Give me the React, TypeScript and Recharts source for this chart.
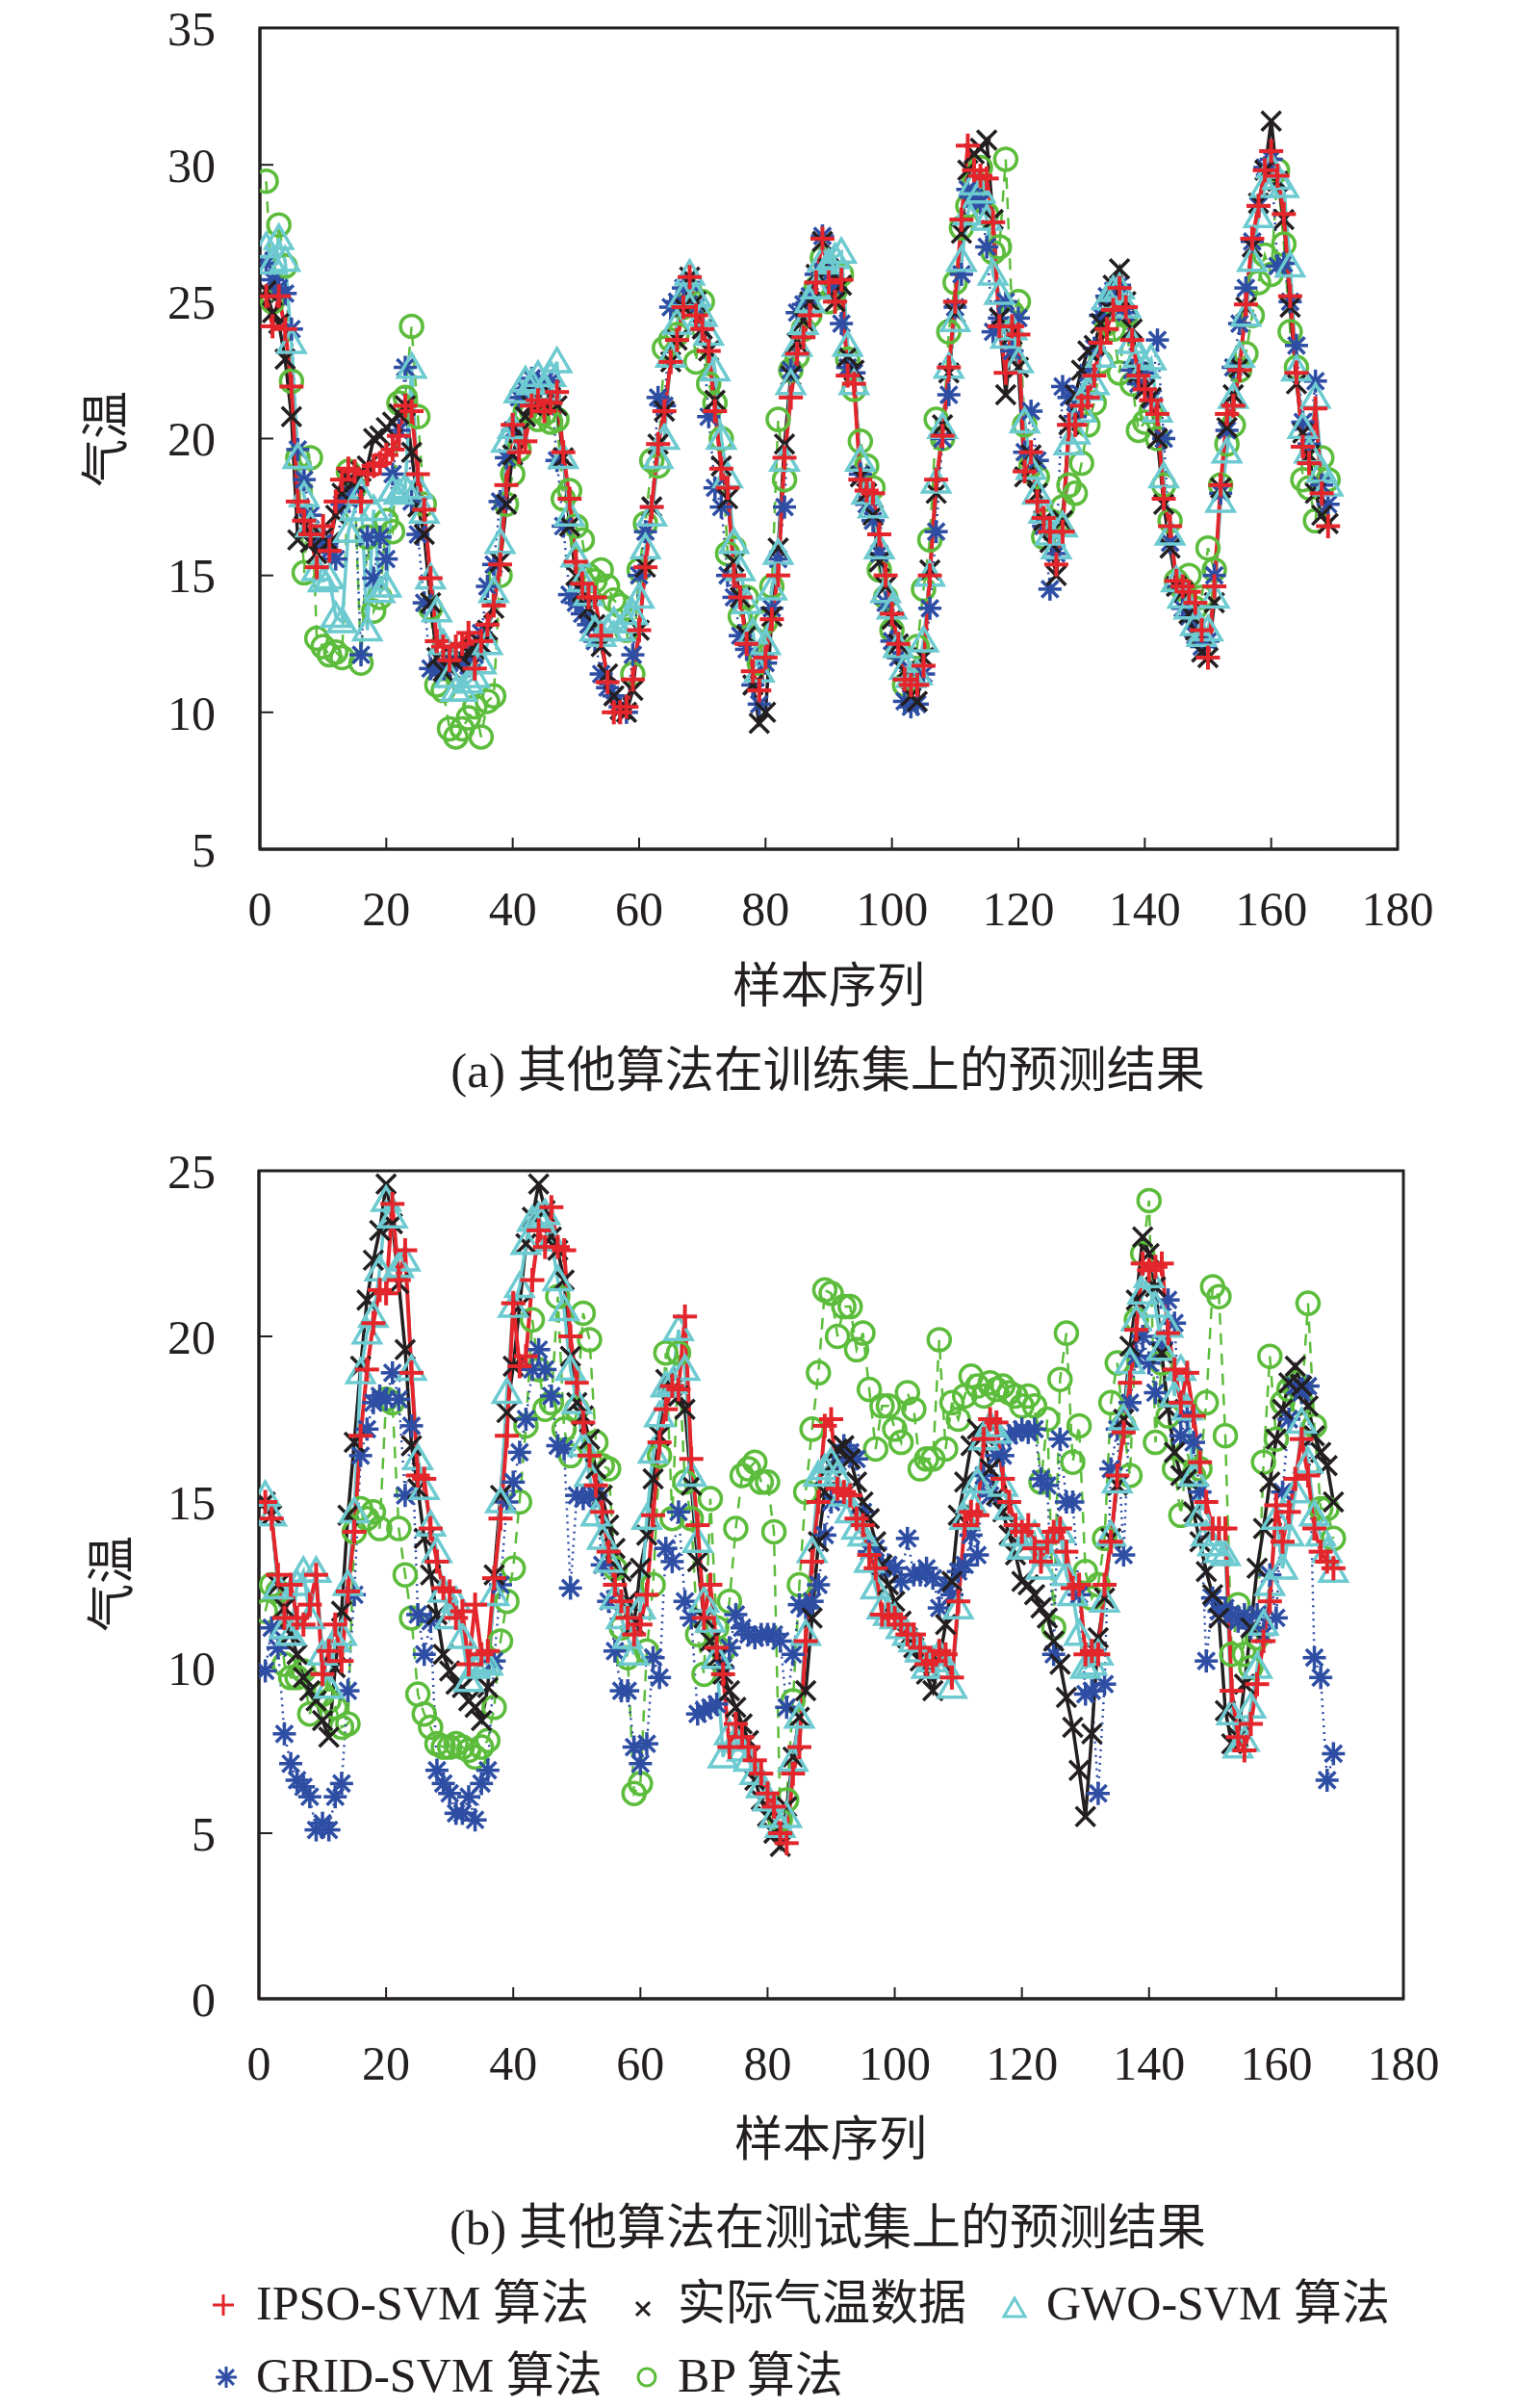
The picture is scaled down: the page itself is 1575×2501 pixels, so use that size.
import React from "react";
import { LineChart, Line, XAxis, YAxis, ReferenceArea } from "recharts";

const FONT = "'Liberation Serif', 'Times New Roman', 'Noto Sans CJK SC', serif";
const RED = "#e3262c";
const BLACK = "#231f20";
const CYAN = "#6ccad0";
const BLUE = "#2e4ea4";
const GREEN = "#5cbc3b";

const X_TICKS = [0, 20, 40, 60, 80, 100, 120, 140, 160, 180];
const Y_TICKS_A = [5, 10, 15, 20, 25, 30, 35];
const Y_TICKS_B = [0, 5, 10, 15, 20, 25];

// ---------- (a) training set ----------
const actualA = [
  25.4, 24.6, 24.2, 22.9, 20.8, 16.3, 16.8, 16.2, 15.8, 16.4,
  16.2, 17.2, 18.0, 18.5, 18.4, 18.8, 19.0, 20.0, 20.1, 20.4,
  20.6, 20.9, 21.2, 19.5, 17.5, 16.5, 14.0, 12.0, 11.5, 11.6,
  11.8, 12.0, 12.2, 12.3, 12.5, 13.0, 13.8, 15.5, 17.6, 19.4,
  20.2, 20.8, 21.2, 21.5, 21.3, 21.5, 21.2, 19.3, 16.8, 15.0,
  14.4, 13.8, 13.2, 12.4, 11.4, 10.6, 10.1, 10.0, 10.8, 13.0,
  15.3, 17.5, 19.8, 21.0, 22.8, 23.6, 24.8, 25.9, 25.0, 24.0,
  23.2, 21.4, 19.0, 17.8, 15.5, 14.2, 12.8, 11.0, 9.6, 10.0,
  13.5, 16.0, 19.8, 22.3, 23.5, 24.3, 25.0, 26.0, 27.2, 26.2,
  25.0, 25.6, 23.0, 22.5, 18.6, 18.0, 17.2, 15.5, 14.6, 13.4,
  12.5, 11.5, 10.6, 10.4, 12.0, 15.2, 18.0, 20.5, 22.4, 24.6,
  27.5, 29.8, 30.4, 30.6, 30.9, 28.0, 24.4, 21.6, 23.8, 22.6,
  18.6, 19.4, 18.0, 17.0, 16.2, 15.0, 17.0, 20.5, 21.6, 22.5,
  23.2, 23.4, 24.2, 24.8, 25.6, 26.2, 25.0, 24.0, 22.4, 21.8,
  21.5, 20.0, 17.6, 16.0, 14.6, 14.4, 13.6, 13.0, 12.2, 12.0,
  14.0, 18.2, 20.4, 21.6, 22.6, 24.8, 27.0, 28.6, 29.8, 31.6,
  29.4, 28.0, 24.8, 22.0, 20.2, 19.4, 18.0, 17.2, 16.9,
];
const ipsoA = [
  25.2, 24.1, 25.2, 24.0, 21.9, 17.7, 17.0, 16.5, 15.3, 16.8,
  15.9, 17.7, 18.5, 18.9, 18.8, 17.7, 18.7, 19.0, 19.1, 19.4,
  19.6, 20.1, 21.2, 21.0, 18.7, 17.4, 14.9, 12.6, 12.4, 11.9,
  12.4, 12.5, 12.9, 11.6, 12.6, 13.2, 13.9, 15.4, 18.3, 20.5,
  19.5, 19.9, 21.2, 21.4, 21.0, 21.3, 21.7, 19.5, 17.8, 15.5,
  14.7, 14.2, 14.2, 12.8, 11.1, 10.0, 10.0, 10.2, 11.2, 13.0,
  15.3, 17.5, 19.8, 21.0, 22.8, 23.6, 24.8, 25.9, 24.5, 24.0,
  23.2, 21.0, 18.9, 18.2, 15.0, 14.2, 12.5, 11.5, 10.8, 12.0,
  13.4, 15.0, 19.3, 21.5, 23.1, 23.7, 24.5, 25.7, 27.3, 25.7,
  25.0, 25.8, 22.3, 22.0, 18.5, 18.1, 18.0, 16.5, 15.0, 13.6,
  12.5, 11.2, 11.0, 11.0, 11.7, 15.0, 18.5, 20.1, 22.6, 25.0,
  28.0, 30.7, 29.8, 29.6, 29.5, 27.9, 24.1, 22.4, 24.1, 23.8,
  18.8, 19.5, 17.7, 17.1, 16.6, 15.4, 16.6, 20.5, 20.5, 21.2,
  21.5, 22.3, 23.5, 24.0, 24.7, 25.5, 24.8, 23.6, 22.3, 21.8,
  21.4, 20.9, 17.8, 16.8, 14.8, 14.6, 14.4, 14.0, 13.0, 12.0,
  14.6, 18.3, 20.9, 21.2, 22.5, 24.9, 27.3, 28.5, 29.8, 30.5,
  29.6, 28.2, 25.2, 22.4, 19.7, 19.1, 21.1, 18.0, 16.8,
];
const gwoA = [
  27.0, 26.4, 27.3, 26.5, 23.5, 19.3, 17.9, 16.8, 15.2, 14.8,
  14.9, 13.5, 13.3, 16.6, 17.4, 18.0, 13.0, 17.4, 14.4, 14.6,
  18.1, 18.0, 18.2, 22.6, 18.2, 17.3, 14.9, 13.7, 12.5, 11.3,
  10.8, 10.8, 11.1, 11.3, 11.8, 12.5, 14.4, 16.2, 19.9, 20.4,
  21.7, 22.1, 22.0, 22.3, 21.8, 22.3, 22.8, 19.3, 17.2, 15.7,
  14.8, 14.3, 13.0, 12.8, 13.0, 13.3, 13.0, 13.3, 13.6, 14.2,
  16.0, 17.2, 19.3, 20.0, 23.0, 24.2, 25.2, 26.0, 25.2, 24.5,
  23.8, 22.5, 20.0, 18.6, 16.2, 15.2, 14.0, 12.9, 11.5, 12.5,
  14.5, 15.8, 19.2, 22.0, 23.4, 24.2, 25.0, 25.5, 26.5, 26.4,
  26.6, 26.8, 23.4, 22.0, 19.2, 18.0, 17.5, 16.0, 14.4, 13.8,
  12.4, 11.6, 11.3, 11.4, 12.6, 15.0, 18.4, 20.4, 22.6, 24.3,
  26.5, 28.2, 29.3, 29.0, 28.0, 26.0, 25.3, 23.7, 24.0, 22.8,
  20.6, 18.9, 18.0, 17.3, 16.5, 16.0, 16.8, 19.8, 20.2, 21.0,
  21.8, 22.0, 23.0, 25.1, 25.4, 25.5, 24.8, 23.5, 23.0, 22.6,
  22.9, 21.0, 18.6, 16.5, 14.8, 14.2, 13.8, 13.2, 12.8, 13.0,
  14.2, 17.7, 19.5, 21.5, 23.0, 24.5, 26.5, 28.1, 29.2, 29.9,
  29.5, 29.2, 26.3, 22.5, 20.4, 19.5, 21.5, 18.8, 18.3,
];
const gridA = [
  26.4, 25.8, 25.5, 25.3, 24.0, 19.6, 18.5, 17.2, 16.4, 16.2,
  15.9, 15.6, 17.6, 17.8, 18.2, 12.1, 16.4, 14.9, 16.4, 15.6,
  18.7, 20.3, 22.6, 17.7, 16.5, 14.0, 11.6, 11.5, 11.6, 11.8,
  12.0, 11.8, 11.7, 12.1, 12.9, 14.6, 15.4, 17.7, 19.3, 20.3,
  21.5, 21.8, 22.2, 22.0, 22.1, 22.1, 19.2, 16.8, 14.3, 14.0,
  13.6, 13.2, 12.6, 11.4, 10.9, 10.6, 10.2, 10.0, 12.1, 15.0,
  16.6, 17.5, 21.5, 21.2, 24.8, 25.0, 25.5, 25.7, 24.8, 24.0,
  20.8, 18.2, 17.5, 15.0, 14.2, 12.8, 12.3, 11.0, 10.3, 11.8,
  13.8, 15.6, 17.5, 22.5, 24.6, 24.9, 25.2, 26.0, 27.4, 26.0,
  25.5, 24.2, 22.6, 22.4, 18.7, 17.6, 17.0, 15.8, 14.0, 12.6,
  12.0, 10.4, 10.2, 10.3, 11.4, 13.8, 16.6, 20.0, 21.6, 24.8,
  26.0, 29.1, 28.8, 28.6, 27.0, 23.9, 24.4, 25.0, 23.2, 24.4,
  19.5, 21.0, 19.2, 16.8, 14.5, 15.8, 21.9, 21.5, 20.8, 21.6,
  22.4, 23.3, 24.5, 25.2, 25.4, 25.6, 24.6, 22.5, 22.0, 22.4,
  21.4, 23.6, 20.0, 16.2, 14.6, 13.8, 13.5, 12.8, 12.4, 12.6,
  15.0, 18.0, 20.3, 22.6, 24.2, 25.5, 27.2, 28.5, 29.9, 30.2,
  26.3, 26.4, 25.0, 23.4, 20.6, 19.8, 22.1, 18.3, 17.6,
];
const bpA = [
  29.4, 25.0, 27.8, 26.3, 22.1, 19.3, 15.1, 19.3, 12.7, 12.4,
  12.1, 12.2, 12.0, 18.8, 18.2, 11.8, 16.4, 13.7, 14.2, 17.0,
  16.6, 21.3, 21.5, 24.1, 20.8, 17.6, 13.8, 11.0, 10.8, 9.4,
  9.1, 9.4, 9.8, 10.2, 9.1, 10.4, 10.6, 15.0, 17.6, 18.7,
  19.6, 21.0, 21.0, 20.7, 20.9, 20.6, 20.7, 17.8, 18.1, 16.8,
  16.3, 15.0, 14.8, 15.2, 14.6, 14.1, 13.9, 13.0, 11.4, 15.2,
  16.9, 19.2, 19.0, 23.3, 23.6, 23.8, 24.8, 25.4, 22.8, 25.0,
  22.0, 21.3, 20.0, 15.8, 16.0, 13.5, 14.2, 12.7, 11.8, 13.3,
  14.6, 20.7, 18.5, 22.5, 23.0, 24.0, 24.5, 25.5, 26.6, 25.0,
  25.4, 26.0, 22.9, 21.8, 19.9, 19.0, 18.2, 15.2, 14.2, 13.0,
  12.3, 11.0, 11.2, 12.4, 14.5, 16.3, 20.7, 20.0, 23.9, 25.7,
  27.7, 28.5, 29.4, 29.9, 28.2, 26.8, 27.0, 30.2, 24.6, 25.0,
  20.5, 19.0, 18.6, 16.4, 17.0, 16.8, 17.5, 18.3, 18.0, 19.1,
  20.5, 21.3, 22.8, 24.2, 24.0, 22.4, 24.5, 22.0, 20.3, 20.6,
  21.0, 20.0, 18.3, 17.0, 14.8, 14.5, 15.0, 13.8, 14.2, 16.0,
  15.2, 18.3, 19.8, 20.5, 22.5, 23.1, 24.5, 25.7, 26.7, 26.0,
  29.8, 27.1, 23.9, 22.6, 18.5, 18.2, 17.0, 19.3, 18.5,
];

// ---------- (b) test set ----------
const actualB = [
  15.0, 14.6, 12.5, 11.8, 11.0, 10.4, 9.7, 9.3, 9.0, 8.4,
  7.9, 10.0, 11.7, 14.6, 16.8, 19.1, 21.1, 22.3, 23.2, 24.6,
  23.4, 21.6, 19.6, 16.7, 15.4, 13.9, 12.8, 11.6, 10.4, 9.9,
  9.5, 9.4, 9.0, 8.8, 8.4, 9.4, 12.8, 15.2, 17.7, 19.1,
  20.9, 22.8, 23.6, 24.6, 23.8, 23.0, 22.6, 21.7, 19.4, 18.0,
  17.6, 16.9, 16.0, 15.2, 14.3, 13.6, 12.9, 12.0, 11.3, 13.0,
  14.0, 15.7, 17.0, 18.7, 18.4, 18.2, 17.8, 15.5, 13.2, 11.5,
  10.8, 10.3, 9.8, 9.3, 8.8, 8.3, 7.8, 6.6, 6.0, 5.5,
  5.0, 4.6, 5.8, 7.3, 8.5, 9.3, 11.5, 13.8, 15.3, 16.1,
  16.6, 16.7, 16.3, 15.6, 15.0, 14.5, 13.8, 13.1, 12.5, 12.0,
  11.4, 10.9, 10.6, 10.2, 9.8, 9.3, 10.2, 11.3, 12.6, 14.6,
  15.6, 16.7, 17.2, 17.0, 16.0, 15.2, 14.7, 14.0, 13.4, 12.6,
  12.5, 12.2, 11.8, 11.5, 10.8, 10.1, 9.1, 8.2, 6.9, 5.5,
  8.0, 10.9, 12.1, 13.9, 15.5, 17.5, 19.7, 21.1, 23.0, 22.5,
  21.5, 19.5, 17.8, 16.5, 15.8, 15.7, 14.7, 13.8, 12.9, 12.2,
  11.5, 8.7, 7.7, 7.9, 9.5, 11.2, 13.0, 14.2, 15.6, 16.9,
  17.8, 18.6, 19.1, 18.5, 17.9, 17.0, 16.5, 16.1, 15.0,
];
const ipsoB = [
  15.0, 14.5, 12.8, 11.5, 12.5, 11.5, 11.3, 11.9, 12.8, 9.8,
  10.5, 11.3, 10.2, 12.3, 14.1, 17.0, 19.0, 20.4, 21.4, 21.3,
  24.0, 21.7, 22.6, 18.9, 15.8, 15.7, 14.2, 13.2, 12.4, 12.3,
  11.5, 11.7, 10.1, 11.9, 10.4, 10.5, 12.7, 14.5, 17.0, 21.0,
  19.1, 19.4, 21.7, 23.2, 22.7, 23.9, 22.7, 22.6, 20.0, 18.6,
  17.4, 16.4, 15.5, 14.7, 13.5, 12.5, 12.0, 11.5, 11.0, 11.3,
  12.2, 14.6, 16.8, 17.8, 18.5, 18.4, 20.6, 16.3, 14.3, 11.5,
  12.5, 10.6, 9.8, 7.6, 8.3, 7.9, 7.6, 7.2, 6.8, 6.2,
  5.8, 5.0, 4.7, 6.8, 7.6, 10.8, 13.2, 15.0, 17.3, 17.5,
  15.4, 15.3, 15.2, 14.5, 14.3, 13.4, 13.0, 11.6, 11.6, 11.5,
  11.3, 11.0, 11.0, 10.6, 10.1, 10.2, 10.5, 10.4, 9.7, 12.0,
  14.3, 14.7, 14.6, 16.9, 17.5, 17.4, 15.7, 15.0, 14.3, 14.1,
  14.3, 13.6, 13.2, 13.8, 14.1, 14.2, 13.5, 12.4, 12.5, 10.4,
  10.5, 10.4, 12.5, 13.8, 15.8, 17.1, 18.6, 20.2, 22.2, 22.0,
  22.1, 22.2, 20.1, 19.0, 18.0, 18.9, 17.6, 16.2, 15.0, 14.2,
  14.2, 14.2, 9.3, 7.9, 7.5, 8.3, 9.5, 10.8, 12.0, 14.9,
  13.8, 14.7, 15.7, 16.9, 15.8, 14.2, 13.5, 13.2, 13.0,
];
const gwoB = [
  15.2, 14.6, 12.4, 11.2, 11.0, 12.5, 12.9, 11.5, 12.9, 10.4,
  9.4, 10.8, 11.0, 12.5, 14.7, 18.9, 20.1, 20.6, 22.0, 24.1,
  23.6, 22.1, 22.3, 19.0, 16.3, 15.4, 14.3, 13.5, 12.3, 11.5,
  12.0, 10.9, 9.6, 10.0, 10.2, 10.1, 12.2, 15.0, 18.3, 20.9,
  21.5, 22.8, 23.5, 23.6, 23.7, 22.9, 21.7, 20.8, 19.0, 18.0,
  16.7, 15.8, 14.6, 13.9, 13.2, 12.1, 11.5, 10.9, 10.4, 11.8,
  14.5, 16.5, 17.6, 18.5, 18.6, 20.2, 19.0, 15.8, 13.8, 12.0,
  11.4, 10.3, 7.3, 8.0, 7.8, 7.5, 7.2, 6.8, 6.4, 6.0,
  5.5, 5.2, 5.5, 7.2, 8.5, 11.0, 13.5, 15.8, 16.0, 16.2,
  15.8, 15.2, 14.7, 14.2, 14.0, 13.2, 12.4, 11.8, 11.6, 11.5,
  11.2, 11.0, 10.8, 10.5, 10.0, 10.2, 10.4, 10.0, 9.4, 11.8,
  14.5, 15.0, 15.6, 16.9, 17.3, 17.1, 15.5, 14.8, 14.0, 13.6,
  13.6, 14.0, 13.0, 13.4, 13.8, 14.1, 12.8, 12.2, 11.0, 10.0,
  10.1, 10.4, 12.0, 14.0, 15.6, 17.5, 19.2, 20.5, 21.3, 21.8,
  20.9, 19.6, 20.3, 18.2, 19.0, 17.8, 15.8, 14.6, 14.0, 13.7,
  13.5, 13.4, 8.6, 7.6, 7.8, 8.8, 10.0, 11.3, 12.5, 14.5,
  13.0, 14.0, 15.3, 17.4, 16.2, 14.6, 14.0, 13.5, 12.9,
];
const gridB = [
  9.9, 11.2, 10.6, 8.0, 7.1, 6.6, 6.4, 6.1, 5.1, 5.3,
  5.1, 6.1, 6.5, 9.3, 12.2, 16.4, 17.2, 18.0, 18.2, 18.1,
  18.9, 18.1, 15.2, 17.3, 11.6, 10.4, 11.4, 6.9, 6.5, 6.2,
  5.6, 5.6, 6.1, 5.4, 6.5, 6.9, 10.2, 12.5, 15.0, 15.6,
  16.5, 17.5, 19.0, 19.6, 19.0, 18.2, 16.7, 16.6, 12.4, 15.2,
  15.1, 15.2, 15.2, 13.1, 12.0, 10.5, 9.3, 9.3, 7.6, 7.1,
  7.7, 10.3, 9.7, 13.6, 13.2, 14.7, 12.0, 11.5, 8.6, 8.7,
  8.8, 8.9, 10.0, 10.6, 11.6, 11.2, 11.0, 10.9, 11.0, 11.0,
  11.0, 10.8, 8.8, 10.4, 11.9, 11.8, 12.0, 12.5, 14.0, 15.0,
  16.2, 16.7, 16.5, 16.3, 14.7, 13.5, 13.6, 13.0, 13.1, 13.0,
  12.6, 13.9, 12.8, 12.8, 13.0, 12.7, 11.8, 12.5, 12.2, 12.9,
  13.1, 14.0, 13.4, 15.8, 15.2, 16.4, 16.4, 17.0, 17.1, 17.2,
  17.1, 17.2, 15.7, 15.5, 10.4, 16.9, 15.0, 15.0, 12.2, 9.2,
  9.3, 6.2, 9.5, 16.0, 17.2, 13.4, 18.0, 19.4, 20.0, 19.2,
  18.3, 19.8, 21.1, 20.4, 17.0, 17.6, 16.8, 15.3, 10.2, 12.1,
  11.7, 11.8, 11.6, 11.4, 11.6, 11.2, 11.6, 11.0, 12.8, 11.5,
  15.3, 17.5, 18.5, 18.3, 18.5, 10.3, 9.7, 6.6, 7.4,
];
const bpB = [
  11.7, 12.5, 12.3, 10.1, 9.7, 9.7, 9.9, 8.6, 9.5, 9.2,
  9.0, 8.8, 8.2, 8.3, 14.1, 14.8, 14.5, 14.7, 14.2, 18.1,
  18.0, 14.2, 12.8, 11.5, 9.2, 8.6, 8.2, 7.7, 7.6, 7.6,
  7.7, 7.6, 7.5, 7.3, 7.6, 7.8, 8.8, 10.8, 12.0, 13.0,
  15.0, 17.3, 20.5, 19.0, 17.8, 18.0, 21.2, 17.2, 16.4, 17.8,
  20.7, 19.9, 16.8, 16.1, 16.0, 13.0, 11.2, 10.3, 6.2, 6.5,
  10.5, 12.5, 16.4, 19.5, 14.5, 19.5, 15.6, 14.5, 11.0, 9.8,
  15.1, 11.2, 10.5, 12.0, 14.2, 15.8, 16.0, 16.2, 15.6, 15.6,
  14.1, 5.4, 6.0, 9.0, 12.5, 15.3, 17.2, 18.9, 21.4, 21.3,
  20.0, 20.9, 20.9, 19.6, 20.1, 18.4, 16.6, 17.9, 17.9, 17.2,
  16.8, 18.3, 17.8, 16.0, 16.3, 16.3, 19.9, 16.6, 18.0, 17.5,
  18.2, 18.8, 18.5, 18.2, 18.6, 18.4, 18.5, 18.3, 18.2, 17.9,
  18.2, 17.9, 15.6, 17.5, 11.2, 18.7, 20.1, 16.2, 17.3, 12.9,
  12.1, 12.5, 13.9, 18.0, 19.2, 17.3, 15.8, 20.5, 22.5, 24.1,
  16.8, 19.2, 17.6, 16.0, 14.6, 16.5, 15.8, 16.0, 18.0, 21.5,
  21.2, 17.0, 10.4, 11.9, 10.4, 10.0, 10.9, 16.2, 19.4, 16.9,
  18.0, 18.4, 18.6, 18.0, 21.0, 17.3, 14.8, 14.8, 13.9,
];

type Row = { x: number; ipso: number; actual: number; gwo: number; grid: number; bp: number };
const buildRows = (ipso: number[], actual: number[], gwo: number[], grid: number[], bp: number[]): Row[] =>
  actual.map((v, i) => ({ x: i + 1, ipso: ipso[i], actual: v, gwo: gwo[i], grid: grid[i], bp: bp[i] }));

const dataA = buildRows(ipsoA, actualA, gwoA, gridA, bpA);
const dataB = buildRows(ipsoB, actualB, gwoB, gridB, bpB);

// ---------- markers ----------
const ok = (cx: any, cy: any) => typeof cx === "number" && typeof cy === "number" && !isNaN(cx) && !isNaN(cy);

const PlusMark = ({ cx, cy, s = 12.5, w = 4 }: any) =>
  ok(cx, cy) ? (
    <g stroke={RED} strokeWidth={w} fill="none">
      <line x1={cx - s} y1={cy} x2={cx + s} y2={cy} />
      <line x1={cx} y1={cy - s} x2={cx} y2={cy + s} />
    </g>
  ) : <g />;

const CrossMark = ({ cx, cy, s = 10, w = 3.5 }: any) =>
  ok(cx, cy) ? (
    <g stroke={BLACK} strokeWidth={w} fill="none">
      <line x1={cx - s} y1={cy - s} x2={cx + s} y2={cy + s} />
      <line x1={cx - s} y1={cy + s} x2={cx + s} y2={cy - s} />
    </g>
  ) : <g />;

const TriMark = ({ cx, cy, s = 14, w = 3.5 }: any) =>
  ok(cx, cy) ? (
    <polygon
      points={`${cx},${cy - s} ${cx - s},${cy + s * 0.72} ${cx + s},${cy + s * 0.72}`}
      fill="none" stroke={CYAN} strokeWidth={w} strokeLinejoin="miter"
    />
  ) : <g />;

const StarMark = ({ cx, cy, s = 12, w = 3.5 }: any) => {
  if (!ok(cx, cy)) return <g />;
  const d = s * 0.72;
  return (
    <g stroke={BLUE} strokeWidth={w} fill="none">
      <line x1={cx} y1={cy - s} x2={cx} y2={cy + s} />
      <line x1={cx - s} y1={cy} x2={cx + s} y2={cy} />
      <line x1={cx - d} y1={cy - d} x2={cx + d} y2={cy + d} />
      <line x1={cx - d} y1={cy + d} x2={cx + d} y2={cy - d} />
    </g>
  );
};

const CircleMark = ({ cx, cy, r = 11.5, w = 3.5 }: any) =>
  ok(cx, cy) ? <circle cx={cx} cy={cy} r={r} fill="none" stroke={GREEN} strokeWidth={w} /> : <g />;

// ---------- panel ----------
type PanelProps = {
  data: Row[];
  top: number;
  height: number;
  margin: { top: number; right: number; bottom: number; left: number };
  yDomain: [number, number];
  yTicks: number[];
  xTickMargin: number;
  yTickMargin: number;
  id: string;
};

function Panel({ data, top, height, margin, yDomain, yTicks, xTickMargin, yTickMargin, id }: PanelProps) {
  const tickStyle = { fill: BLACK, fontSize: 50, fontFamily: FONT };
  return (
    <div style={{ position: "absolute", left: 0, top, width: 1575, height }}>
      <LineChart width={1575} height={height} data={data} margin={margin}>
        <XAxis
          dataKey="x" type="number" domain={[0, 180]} ticks={X_TICKS} interval={0} height={60}
          tickSize={-12} tickMargin={xTickMargin} allowDataOverflow
          axisLine={{ stroke: BLACK, strokeWidth: 3 }} tickLine={{ stroke: BLACK, strokeWidth: 2 }}
          tick={tickStyle}
        />
        <YAxis
          type="number" domain={yDomain} ticks={yTicks} interval={0} width={100}
          tickSize={-14} tickMargin={yTickMargin} allowDataOverflow
          axisLine={{ stroke: BLACK, strokeWidth: 3 }} tickLine={{ stroke: BLACK, strokeWidth: 2 }}
          tick={tickStyle}
        />
        <Line
          type="linear" dataKey="bp" stroke={GREEN} strokeWidth={2.5} strokeDasharray="12 9"
          dot={(p: any) => <CircleMark key={`${id}-bp-${p.index}`} cx={p.cx} cy={p.cy} />}
          activeDot={false} isAnimationActive={false}
        />
        <Line
          type="linear" dataKey="grid" stroke={BLUE} strokeWidth={2.5} strokeDasharray="2 5"
          dot={(p: any) => <StarMark key={`${id}-grid-${p.index}`} cx={p.cx} cy={p.cy} />}
          activeDot={false} isAnimationActive={false}
        />
        <Line
          type="linear" dataKey="actual" stroke={BLACK} strokeWidth={3.5}
          dot={(p: any) => <CrossMark key={`${id}-act-${p.index}`} cx={p.cx} cy={p.cy} />}
          activeDot={false} isAnimationActive={false}
        />
        <Line
          type="linear" dataKey="gwo" stroke={CYAN} strokeWidth={3.5}
          dot={(p: any) => <TriMark key={`${id}-gwo-${p.index}`} cx={p.cx} cy={p.cy} />}
          activeDot={false} isAnimationActive={false}
        />
        <Line
          type="linear" dataKey="ipso" stroke={RED} strokeWidth={4}
          dot={(p: any) => <PlusMark key={`${id}-ipso-${p.index}`} cx={p.cx} cy={p.cy} />}
          activeDot={false} isAnimationActive={false}
        />
        <ReferenceArea
          x1={0} x2={180} y1={yDomain[0]} y2={yDomain[1]}
          fill="none" fillOpacity={0} stroke={BLACK} strokeWidth={3} ifOverflow="visible"
        />
      </LineChart>
    </div>
  );
}

const textBase = { fontFamily: FONT, fill: BLACK } as const;

export default function App() {
  return (
    <div style={{ position: "absolute", left: 0, top: 0, width: 1575, height: 2501, background: "#fff" }}>
      <Panel
        id="a" data={dataA} top={0} height={1000}
        margin={{ top: 29, right: 123, bottom: 58, left: 170 }}
        yDomain={[5, 35]} yTicks={Y_TICKS_A} xTickMargin={55} yTickMargin={60}
      />
      <Panel
        id="b" data={dataB} top={1150} height={1100}
        margin={{ top: 66, right: 117, bottom: 114, left: 169 }}
        yDomain={[0, 25]} yTicks={Y_TICKS_B} xTickMargin={60} yTickMargin={59}
      />
      <svg width={1575} height={2501} style={{ position: "absolute", left: 0, top: 0, pointerEvents: "none" }}>
        <text {...textBase} x={110} y={456} fontSize={50} textAnchor="middle" dominantBaseline="central"
          transform="rotate(-90 110 456)">气温</text>
        <text {...textBase} x={116} y={1645} fontSize={50} textAnchor="middle" dominantBaseline="central"
          transform="rotate(-90 116 1645)">气温</text>

        <text {...textBase} x={861} y={1024} fontSize={50} textAnchor="middle" dominantBaseline="central">样本序列</text>
        <text {...textBase} x={863} y={2222} fontSize={50} textAnchor="middle" dominantBaseline="central">样本序列</text>

        <text {...textBase} x={860} y={1112} fontSize={51} textAnchor="middle" dominantBaseline="central">(a) 其他算法在训练集上的预测结果</text>
        <text {...textBase} x={860} y={2314} fontSize={51} textAnchor="middle" dominantBaseline="central">(b) 其他算法在测试集上的预测结果</text>

        <PlusMark cx={232} cy={2394} s={11} w={3} />
        <text {...textBase} x={266} y={2392} fontSize={50} dominantBaseline="central">IPSO-SVM 算法</text>
        <CrossMark cx={668} cy={2398} s={7} w={3} />
        <text {...textBase} x={704} y={2392} fontSize={50} dominantBaseline="central">实际气温数据</text>
        <TriMark cx={1054} cy={2398} s={11} w={3} />
        <text {...textBase} x={1087} y={2392} fontSize={50} dominantBaseline="central">GWO-SVM 算法</text>

        <StarMark cx={235} cy={2469} s={11} w={3} />
        <text {...textBase} x={266} y={2467} fontSize={50} dominantBaseline="central">GRID-SVM 算法</text>
        <CircleMark cx={672} cy={2469} r={9} w={3} />
        <text {...textBase} x={704} y={2467} fontSize={50} dominantBaseline="central">BP 算法</text>
      </svg>
    </div>
  );
}
